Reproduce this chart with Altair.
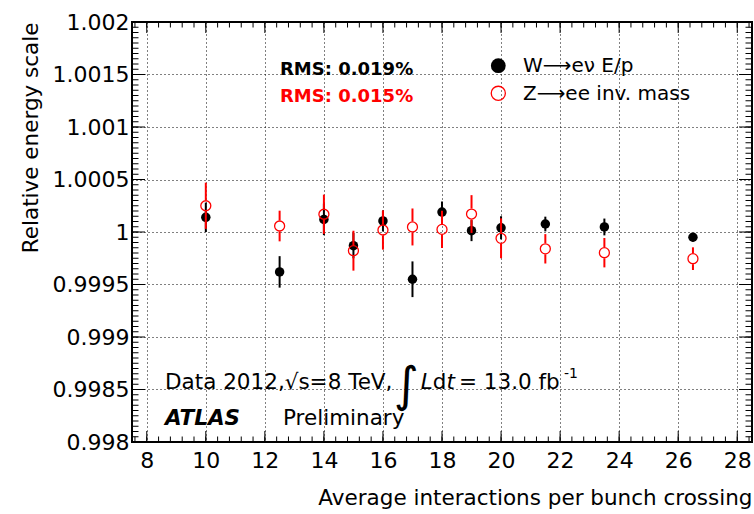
import altair as alt
import pandas as pd

# Average number of interactions per bunch crossing (bin centres)
mu = [10, 12.5, 14, 15, 16, 17, 18, 19, 20, 21.5, 23.5, 26.5]

# W -> e nu, E/p method
w_scale = [1.00014, 0.99962, 1.00012, 0.99987, 1.000105, 0.99955,
           1.00019, 1.000013, 1.00004, 1.000076, 1.000048, 0.99995]
w_err = [0.00014, 0.00015, 0.00015, 0.00012, 0.00010, 0.00017,
         0.00010, 0.00010, 0.00011, 0.00007, 0.00008, 0.00004]

# Z -> ee, invariant mass method
z_scale = [1.00025, 1.000057, 1.000169, 0.999822, 1.000019, 1.000048,
           1.000025, 1.000171, 0.99994, 0.99984, 0.999803, 0.999746]
z_err = [0.00022, 0.000146, 0.000187, 0.00019, 0.000187, 0.000176,
         0.000178, 0.00018, 0.00019, 0.00014, 0.00014, 0.000108]

x_major = [8, 10, 12, 14, 16, 18, 20, 22, 24, 26, 28]
x_minor = [round(7.6 + 0.4 * i, 1) for i in range(53)]
y_major = [round(0.998 + 0.0005 * i, 4) for i in range(9)]
y_minor = [round(0.998 + 0.00005 * i, 5) for i in range(81)]

W, H = 620, 420
FONT = "DejaVu Sans"

xs = alt.Scale(domain=[7.5, 28.5], nice=False, zero=False)
ys = alt.Scale(domain=[0.998, 1.002], nice=False, zero=False)


def frame(vals, name):
    return pd.DataFrame({name: vals})


w_df = pd.DataFrame({"mu": mu, "val": w_scale,
                     "lo": [v - e for v, e in zip(w_scale, w_err)],
                     "hi": [v + e for v, e in zip(w_scale, w_err)]})
z_df = pd.DataFrame({"mu": mu, "val": z_scale,
                     "lo": [v - e for v, e in zip(z_scale, z_err)],
                     "hi": [v + e for v, e in zip(z_scale, z_err)]})

x_axis = alt.Axis(values=x_major, grid=True, ticks=False, tickSize=0, domain=False,
                  labelFontSize=22, labelPadding=8, labelFlush=False,
                  gridColor="black", gridDash=[1, 3], gridWidth=1,
                  title="Average interactions per bunch crossing",
                  titleFontSize=21.5, titleFontWeight="normal",
                  titleAnchor="end", titleAlign="right", titleBaseline="alphabetic",
                  titleX=W, titleY=62)
y_axis = alt.Axis(values=y_major, format="~g", grid=True, ticks=False, tickSize=0,
                  domain=False, labelFontSize=22, labelPadding=3,
                  gridColor="black", gridDash=[1, 3], gridWidth=1,
                  title="Relative energy scale",
                  titleFontSize=21.5, titleFontWeight="normal",
                  titleAnchor="end", titleAlign="right", titleAngle=270,
                  titleBaseline="alphabetic", titleX=-95, titleY=0)

# W -> e nu: error bars and filled markers
w_bars = alt.Chart(w_df).mark_rule(color="black", strokeWidth=2).encode(
    x=alt.X("mu:Q", scale=xs, axis=x_axis),
    y=alt.Y("lo:Q", scale=ys, axis=y_axis),
    y2="hi:Q",
)
w_pts = alt.Chart(w_df).mark_point(shape="circle", filled=True, size=90,
                                   color="black", opacity=1).encode(
    x=alt.X("mu:Q", scale=xs), y=alt.Y("val:Q", scale=ys))

# Z -> ee: error bars with a gap around the open marker
R_GAP = 5.5
z_low = alt.Chart(z_df).mark_rule(color="red", strokeWidth=2, y2Offset=R_GAP).encode(
    x=alt.X("mu:Q", scale=xs), y=alt.Y("lo:Q", scale=ys), y2="val:Q")
z_high = alt.Chart(z_df).mark_rule(color="red", strokeWidth=2, y2Offset=-R_GAP).encode(
    x=alt.X("mu:Q", scale=xs), y=alt.Y("hi:Q", scale=ys), y2="val:Q")
z_pts = alt.Chart(z_df).mark_point(shape="circle", filled=False, size=100,
                                   color="red", strokeWidth=1.3, opacity=1).encode(
    x=alt.X("mu:Q", scale=xs), y=alt.Y("val:Q", scale=ys))


# Inward-pointing tick marks on all four sides of the frame
def x_ticks(vals, y0, length):
    return alt.Chart(frame(vals, "t")).mark_rule(color="black", strokeWidth=1).encode(
        x=alt.X("t:Q", scale=xs), y=alt.value(y0), y2=alt.value(y0 + length))


def y_ticks(vals, x0, length):
    return alt.Chart(frame(vals, "t")).mark_rule(color="black", strokeWidth=1).encode(
        y=alt.Y("t:Q", scale=ys), x=alt.value(x0), x2=alt.value(x0 + length))


ticks = [
    x_ticks(x_major, H, -11), x_ticks(x_minor, H, -5.5),
    x_ticks(x_major, 0, 11), x_ticks(x_minor, 0, 5.5),
    y_ticks(y_major, 0, 13), y_ticks(y_minor, 0, 6.5),
    y_ticks(y_major, W, -13), y_ticks(y_minor, W, -6.5),
]


def label(text, px, py, size, color="black", weight="normal", style="normal",
          align="left", baseline="alphabetic"):
    return alt.Chart(pd.DataFrame({"t": [text]})).mark_text(
        font=FONT, fontSize=size, fontWeight=weight, fontStyle=style,
        color=color, align=align, baseline=baseline).encode(
        x=alt.value(px), y=alt.value(py), text="t:N")


def marker(px, py, filled, color, size, sw=1.0):
    return alt.Chart(pd.DataFrame({"k": [0]})).mark_point(
        shape="circle", filled=filled, color=color, size=size,
        strokeWidth=sw, opacity=1).encode(x=alt.value(px), y=alt.value(py))


texts = [
    label("RMS: 0.019%", 148, 53, 18, weight="bold"),
    label("RMS: 0.015%", 148, 79.5, 18, color="red", weight="bold"),
    marker(366.3, 43.7, True, "black", 219),
    marker(366.3, 71.3, False, "red", 200, 1.3),
    label("W⟶eν E/p", 391, 49.7, 20),
    label("Z⟶ee inv. mass", 391, 78, 20),
    label("Data 2012,√s=8 TeV,", 33, 367.3, 21.5),
    label("∫", 262, 379, 48),
    label("L", 288.7, 367.3, 21.5, style="italic"),
    label("d", 300.7, 367.3, 21.5),
    label("t", 314.5, 367.3, 21.5, style="italic"),
    label("= 13.0 fb", 327, 367.3, 21.5),
    label("-1", 432, 356, 14),
    label("ATLAS", 33, 403, 21.5, weight="bold", style="italic"),
    label("Preliminary", 151, 403, 21.5),
]

chart = alt.layer(w_bars, w_pts, z_low, z_high, z_pts, *ticks, *texts).properties(
    width=W, height=H,
    padding={"left": 132, "top": 22, "right": 2, "bottom": 72},
    autosize=alt.AutoSizeParams(type="none"),
    background="white",
).configure_view(
    stroke="black", strokeWidth=2
).configure_axis(
    labelFont=FONT, titleFont=FONT, labelColor="black", titleColor="black",
    labelOverlap=False, labelBound=False
)

chart.save("out.html", embed_options={"renderer": "svg", "actions": False})
